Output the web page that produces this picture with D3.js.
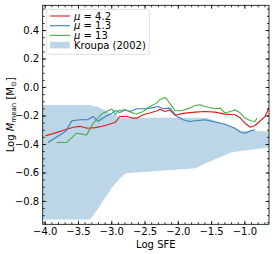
<!DOCTYPE html>
<html>
<head>
<meta charset="utf-8">
<script src="https://cdn.jsdelivr.net/npm/d3@7"></script>
<style>
  body { margin: 0; background: #fff; }
  svg { font-family: "DejaVu Sans", sans-serif; }
</style>
</head>
<body>
<div id="chart"></div>
<script>
// Kroupa (2002) band
const bandX    = [-4.03, -3.32, -3.2, -3.09, -3.0, -2.87, -2.78, -2.42, -1.74, -1.56, -1.2, -1.065, -0.63];
const bandLow  = [-0.93, -0.93, -0.855, -0.775, -0.715, -0.64, -0.606, -0.594, -0.57, -0.532, -0.46, -0.45, -0.425];
const bandHigh = [-0.127, -0.127, -0.14, -0.165, -0.19, -0.213, -0.215, -0.215, -0.215, -0.215, -0.28, -0.305, -0.313];

// mu = 4.2
const redX = [-3.99, -3.84, -3.69, -3.57, -3.47, -3.36, -3.24, -3.14, -3.05, -2.94, -2.87, -2.76, -2.69, -2.61, -2.52, -2.42, -2.31, -2.27, -2.19, -2.12, -2.04, -1.97, -1.89, -1.74, -1.59, -1.44, -1.29, -1.14, -1.06, -0.99, -0.91, -0.84, -0.76, -0.69, -0.63];
const redY = [-0.343, -0.322, -0.30, -0.283, -0.276, -0.289, -0.285, -0.276, -0.265, -0.248, -0.207, -0.207, -0.218, -0.218, -0.195, -0.183, -0.167, -0.156, -0.172, -0.16, -0.2, -0.19, -0.183, -0.176, -0.172, -0.176, -0.19, -0.195, -0.218, -0.254, -0.282, -0.27, -0.237, -0.207, -0.146];

// mu = 1.3
const blueX = [-3.95, -3.81, -3.69, -3.59, -3.47, -3.36, -3.27, -3.20, -3.09, -3.0, -2.94, -2.87, -2.79, -2.72, -2.61, -2.52, -2.42, -2.30, -2.22, -2.12, -2.01, -1.92, -1.82, -1.74, -1.59, -1.44, -1.29, -1.14, -1.06, -0.99, -0.91, -0.84];
const blueY = [-0.389, -0.348, -0.313, -0.237, -0.23, -0.23, -0.207, -0.242, -0.207, -0.188, -0.165, -0.179, -0.16, -0.172, -0.153, -0.153, -0.148, -0.137, -0.153, -0.148, -0.207, -0.23, -0.242, -0.237, -0.23, -0.246, -0.261, -0.289, -0.317, -0.324, -0.308, -0.30];

// mu = 13
const greenX = [-3.82, -3.67, -3.52, -3.37, -3.27, -3.14, -3.04, -2.99, -2.94, -2.89, -2.79, -2.72, -2.62, -2.52, -2.42, -2.32, -2.27, -2.19, -2.12, -2.04, -1.94, -1.82, -1.74, -1.67, -1.59, -1.52, -1.44, -1.36, -1.29, -1.21, -1.14, -1.06, -0.99, -0.91, -0.84, -0.81];
const greenY = [-0.39, -0.39, -0.324, -0.336, -0.254, -0.188, -0.165, -0.155, -0.195, -0.165, -0.16, -0.176, -0.19, -0.172, -0.137, -0.113, -0.089, -0.073, -0.113, -0.167, -0.167, -0.148, -0.13, -0.125, -0.137, -0.144, -0.153, -0.148, -0.183, -0.172, -0.16, -0.183, -0.218, -0.237, -0.242, -0.218];

const xTicks = [-4.0, -3.5, -3.0, -2.5, -2.0, -1.5, -1.0];
const yTicks = [-0.8, -0.6, -0.4, -0.2, 0.0, 0.2, 0.4];

const series = [
  { label: "4.2", xs: redX, ys: redY, color: "#e41a1c" },
  { label: "1.3", xs: blueX, ys: blueY, color: "#377eb8" },
  { label: "13", xs: greenX, ys: greenY, color: "#4daf4a" }
];

const W = 274, H = 254;
const margin = { top: 5.3, right: 5, bottom: 29.7, left: 42.7 };
const width = W - margin.left - margin.right;
const height = H - margin.top - margin.bottom;

const svg = d3.select("#chart").append("svg")
  .attr("width", W)
  .attr("height", H);

const g = svg.append("g")
  .attr("transform", `translate(${margin.left},${margin.top})`);

const x = d3.scaleLinear().domain([-4.03, -0.63]).range([0, width]);
const y = d3.scaleLinear().domain([-0.964, 0.574]).range([height, 0]);

g.append("clipPath").attr("id", "clip")
  .append("rect").attr("width", width).attr("height", height);

const plot = g.append("g").attr("clip-path", "url(#clip)");

// band
const band = bandX.map((v, i) => ({ x: v, lo: bandLow[i], hi: bandHigh[i] }));
plot.append("path")
  .datum(band)
  .attr("fill", "#bcd6e8")
  .attr("d", d3.area().x(d => x(d.x)).y0(d => y(d.lo)).y1(d => y(d.hi)));

// lines
const line = d3.line().x(d => x(d.x)).y(d => y(d.y));
series.forEach(s => {
  const pts = s.xs.map((v, i) => ({ x: v, y: s.ys[i] }));
  plot.append("path")
    .datum(pts)
    .attr("fill", "none")
    .attr("stroke", s.color)
    .attr("stroke-width", 1.1)
    .attr("stroke-linejoin", "round")
    .attr("d", line);
});

// axes, ticks inward on all four sides
const fmt = d3.format(".1f");
const xMinor = d3.range(-40, -6).map(v => v / 10);
const yMinor = d3.range(-19, 12).map(v => v / 20);

function styleAxis(sel) {
  sel.select(".domain").remove();
  sel.selectAll("line").attr("stroke", "#000").attr("stroke-width", 0.8);
  sel.selectAll("text").attr("fill", "#000").attr("font-size", "10px")
    .attr("font-family", "DejaVu Sans, sans-serif");
}

g.append("g").attr("transform", `translate(0,${height})`)
  .call(d3.axisBottom(x).tickValues(xTicks).tickFormat(fmt).tickSize(-3.5).tickPadding(3.5))
  .call(styleAxis);
g.append("g").attr("transform", `translate(0,${height})`)
  .call(d3.axisBottom(x).tickValues(xMinor).tickFormat("").tickSize(-2))
  .call(styleAxis);
g.append("g")
  .call(d3.axisTop(x).tickValues(xTicks).tickFormat("").tickSize(-3.5))
  .call(styleAxis);
g.append("g")
  .call(d3.axisTop(x).tickValues(xMinor).tickFormat("").tickSize(-2))
  .call(styleAxis);

g.append("g")
  .call(d3.axisLeft(y).tickValues(yTicks).tickFormat(fmt).tickSize(-3.5).tickPadding(3.5))
  .call(styleAxis);
g.append("g")
  .call(d3.axisLeft(y).tickValues(yMinor).tickFormat("").tickSize(-2))
  .call(styleAxis);
g.append("g").attr("transform", `translate(${width},0)`)
  .call(d3.axisRight(y).tickValues(yTicks).tickFormat("").tickSize(-3.5))
  .call(styleAxis);
g.append("g").attr("transform", `translate(${width},0)`)
  .call(d3.axisRight(y).tickValues(yMinor).tickFormat("").tickSize(-2))
  .call(styleAxis);

g.append("rect")
  .attr("width", width)
  .attr("height", height)
  .attr("fill", "none")
  .attr("stroke", "#000")
  .attr("stroke-width", 0.8);

// axis labels
svg.append("text")
  .attr("x", margin.left + width / 2)
  .attr("y", 248)
  .attr("text-anchor", "middle")
  .attr("font-size", "10px")
  .text("Log SFE");

const yl = svg.append("text")
  .attr("transform", `translate(14,${margin.top + height / 2}) rotate(-90)`)
  .attr("text-anchor", "middle")
  .attr("font-size", "10px");
yl.append("tspan").text("Log ");
yl.append("tspan").attr("font-style", "italic").text("M");
yl.append("tspan").attr("font-size", "7px").attr("dy", 2).text("mean");
yl.append("tspan").attr("dy", -2).text(" [M");
yl.append("tspan").attr("font-size", "7px").attr("dy", 2).text("⊙");
yl.append("tspan").attr("dy", -2).text("]");

// legend
const legend = svg.append("g").attr("transform", "translate(46.7,9.3)");
legend.append("rect")
  .attr("width", 102.6)
  .attr("height", 45)
  .attr("rx", 2)
  .attr("fill", "#fff")
  .attr("fill-opacity", 0.8)
  .attr("stroke", "#d6d6d6")
  .attr("stroke-width", 0.8);

series.forEach((s, i) => {
  const cy = 6.7 + i * 9.7;
  legend.append("line")
    .attr("x1", 3.3).attr("x2", 23.3)
    .attr("y1", cy).attr("y2", cy)
    .attr("stroke", s.color)
    .attr("stroke-width", 1.1);
  const t = legend.append("text")
    .attr("x", 27.3)
    .attr("y", cy + 3.6)
    .attr("font-size", "10px");
  t.append("tspan").attr("font-style", "italic").text("μ");
  t.append("tspan").text(" = " + s.label);
});

const ky = 6.7 + 3 * 9.7;
legend.append("rect")
  .attr("x", 3.3).attr("y", ky - 3.3)
  .attr("width", 20).attr("height", 6.6)
  .attr("fill", "#bcd6e8");
legend.append("text")
  .attr("x", 27.3)
  .attr("y", ky + 3.6)
  .attr("font-size", "10px")
  .text("Kroupa (2002)");
</script>
</body>
</html>
